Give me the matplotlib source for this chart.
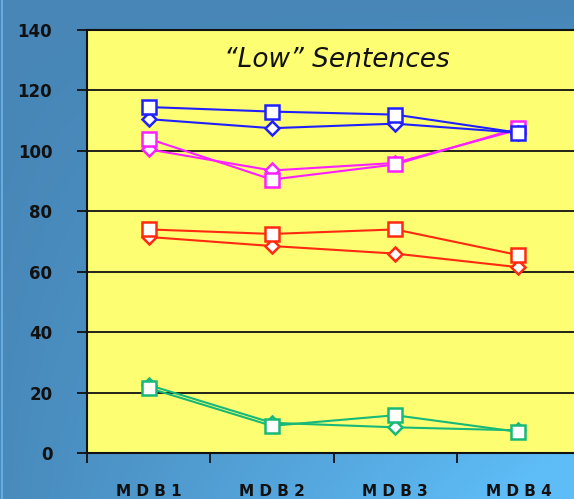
import numpy as np
import matplotlib
matplotlib.use("Agg")
import matplotlib.pyplot as plt
from matplotlib.colors import LinearSegmentedColormap

categories = ["M D B 1", "M D B 2", "M D B 3", "M D B 4"]
title = "\u201cLow\u201d Sentences"

blue_sq = [114.5, 113, 112, 106]
blue_dm = [110.5, 107.5, 109, 106]
mag_sq = [104, 90.5, 95.5, 107.5]
mag_dm = [100.5, 93.5, 96, 107]
red_sq = [74, 72.5, 74, 65.5]
red_dm = [71.5, 68.5, 66, 61.5]
grn_sq = [21.5, 9, 12.5, 7]
grn_dm = [22.5, 10, 8.5, 7.5]

y_ticks = [0, 20, 40, 60, 80, 100, 120, 140]

W, H, DPI = 574, 499, 100
fig = plt.figure(figsize=(W / DPI, H / DPI), dpi=DPI)

# background gradient
bg = fig.add_axes([0, 0, 1, 1], zorder=-5)
xs = np.linspace(0, 1, 300)
ys = np.linspace(0, 1, 300)
X, Y = np.meshgrid(xs, ys)  # Y=0 top
T = np.clip(X * Y * 1.05 + 0.08 * Y, 0, 1)
cmap = LinearSegmentedColormap.from_list("bg", ["#4786b7", "#5ebcf6"])
bg.imshow(T, cmap=cmap, aspect="auto", extent=[0, 1, 1, 0])
bg.axvline(0.004, color="#6cb4ec", lw=1.2)
bg.set_axis_off()

left = 87 / W
bottom = (H - 453) / H
top = 1 - 30 / H
right = 580 / W
ax = fig.add_axes([left, bottom, right - left, top - bottom])
ax.set_facecolor("#fefe72")

x = np.arange(1, len(categories) + 1)

series = [
    (grn_dm, "#18b878", "D", 7),
    (grn_sq, "#18b878", "s", 9.5),
    (red_dm, "#ff2a10", "D", 7),
    (red_sq, "#ff2a10", "s", 9.5),
    (mag_dm, "#ff20ff", "D", 7),
    (mag_sq, "#ff20ff", "s", 9.5),
    (blue_dm, "#2020ff", "D", 7),
    (blue_sq, "#2020ff", "s", 9.5),
]
for i, (vals, col, mk, ms) in enumerate(series):
    ax.plot(x, vals, color=col, lw=1.5, marker=mk, ms=ms, mfc="white",
            mec=col, mew=1.8, zorder=3 + i * 0.1, clip_on=False)

ax.set_xlim(0.5, 4.5)
ax.set_ylim(0, 140)
ax.set_yticks(y_ticks)
ax.set_yticklabels([str(v) for v in y_ticks], fontsize=12, fontweight="bold",
                   color="#111111")
ax.tick_params(axis="y", length=7, width=1.3, pad=18, color="#111111")
ax.yaxis.grid(True, color="#111111", lw=1.3)
ax.set_axisbelow(True)

ax.set_xticks([0.5, 1.5, 2.5, 3.5, 4.5])
ax.set_xticklabels([])
ax.set_xticks(x, minor=True)
ax.set_xticklabels(categories, minor=True, fontsize=11, fontweight="bold",
                   color="#111111")
ax.tick_params(axis="x", which="major", length=7, width=1.3, color="#111111")
ax.tick_params(axis="x", which="minor", length=0, pad=22)

for s in ["left", "bottom", "top"]:
    ax.spines[s].set_color("#111111")
    ax.spines[s].set_linewidth(1.5)
ax.spines["right"].set_visible(False)

ax.text(337 / W, 1 - 60 / H, title, transform=fig.transFigure, ha="center",
        va="center", fontsize=19, fontstyle="italic", color="#111111",
        family="DejaVu Sans")

fig.savefig("out.png", dpi=DPI)
